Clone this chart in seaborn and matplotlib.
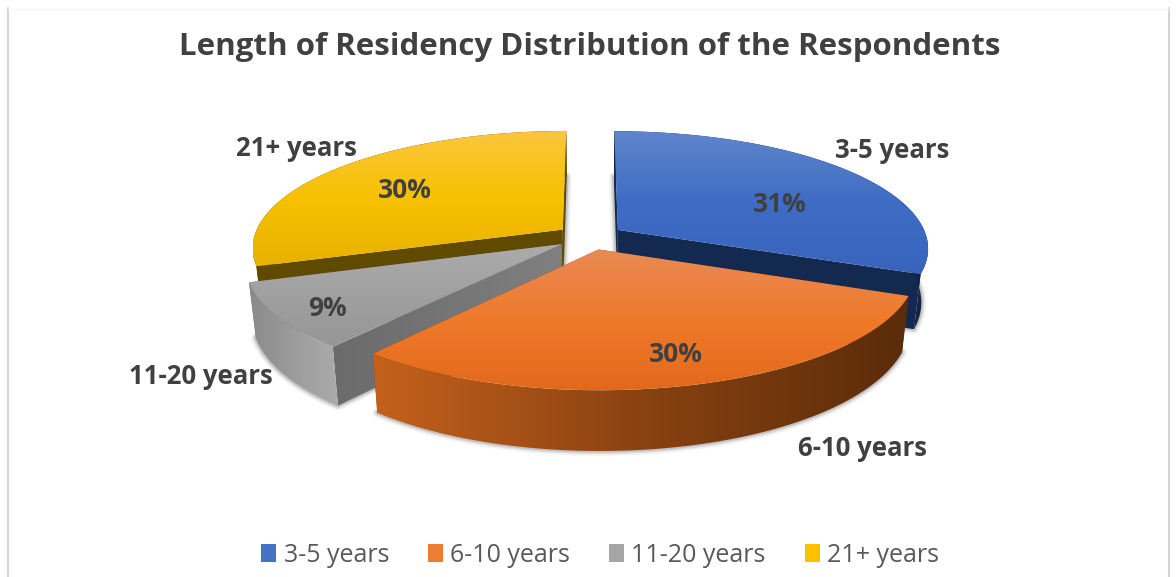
import numpy as np
import matplotlib
matplotlib.use('Agg')
import matplotlib.pyplot as plt
import seaborn as sns
from matplotlib.colors import LinearSegmentedColormap
from matplotlib.patches import Patch, Polygon

categories = ['3-5 years', '6-10 years', '11-20 years', '21+ years']
shares = [31, 30, 9, 30]
base_colors = ['#4472C4', '#ED7D31', '#A5A5A5', '#FFC000']
title = 'Length of Residency Distribution of the Respondents'

# colour stops for the fake 3d shading
top_stops = [['#5F86CC', '#3F6CC4', '#3864BC'],
             ['#E98A55', '#EF7A2A', '#E2691B'],
             ['#ABABAB', '#A0A0A0', '#969696'],
             ['#FBC640', '#F7C100', '#E9B100']]
arc_stops = [['#15294F', '#15294F', '#122447'],
             ['#C4611C', '#8A4211', '#5A2C09'],
             ['#8A8A8A', '#9C9C9C', '#ABABAB'],
             ['#5F4A00', '#5F4A00', '#5F4A00']]
cut_stops = [['#14294F', '#14294F', '#14294F'],
             ['#7A3A0E', '#7A3A0E', '#7A3A0E'],
             ['#6B6B6B', '#757575', '#808080'],
             ['#5F4A00', '#5F4A00', '#5F4A00']]

# projection of the pie plane onto the picture, in pixels
CX, CY = 590, 237
RX, RY = 309, 115.5
TILT = 0.15
EXPLODE = 0.11
BASE_SHRINK = 0.98

sns.set_theme(style='white')
plt.rcParams['font.family'] = ['Open Sans', 'DejaVu Sans']

fig = plt.figure(figsize=(11.76, 5.77), dpi=100, facecolor='white')
ax = fig.add_axes([0, 0, 1, 1])

# pie gives the angles and exploded centres, the wedges are redrawn in perspective below
wedges, _ = ax.pie(shares, explode=[EXPLODE] * len(shares), startangle=90, counterclock=False)


def project(x, y):
    d = 1 + TILT * y
    return CX + RX * x / d, CY - RY * y / d


def depth(y):
    return 53 - 7 * y


def grad_fill(pts, stops, horizontal, z):
    xs, ys = pts[:, 0], pts[:, 1]
    cmap = LinearSegmentedColormap.from_list('g', stops)
    ramp = np.linspace(0, 1, 256)
    img = ramp[None, :] if horizontal else ramp[:, None]
    im = ax.imshow(img, cmap=cmap, vmin=0, vmax=1, aspect='auto', zorder=z,
                   extent=(xs.min(), xs.max(), ys.max(), ys.min()), interpolation='bilinear')
    clip = Polygon(pts, closed=True, transform=ax.transData, facecolor='none', edgecolor='none')
    ax.add_patch(clip)
    im.set_clip_path(clip)


z = 2
slices = []
for i, w in enumerate(wedges):
    th = np.radians(np.linspace(w.theta1, w.theta2, 120))
    cx, cy = w.center
    ax_pts = np.column_stack([cx + np.cos(th), cy + np.sin(th)])
    apex = np.array([cx, cy])
    slices.append((i, apex, ax_pts))
    w.set_visible(False)

# back slices first, orange is in front
for i, apex, arc in [slices[3], slices[0], slices[2], slices[1]]:
    all_pts = np.vstack([apex, arc])
    px, py = project(all_pts[:, 0], all_pts[:, 1])
    top = np.column_stack([px, py])
    low = np.column_stack([CX + (px - CX) * BASE_SHRINK, py + depth(all_pts[:, 1])])

    # soft shadow round the base
    for lw, a in [(7, 0.06), (4.5, 0.10), (2.5, 0.16)]:
        ax.add_patch(Polygon(low, closed=True, fill=False, edgecolor='#303030', alpha=a,
                             lw=lw, joinstyle='round', zorder=z))
    z += 1

    # the two cut faces
    for j in (1, -1):
        quad = np.array([top[0], top[j], low[j], low[0]])
        grad_fill(quad, cut_stops[i], True, z)
        z += 1

    # outer rim, only the part facing the viewer shows
    rim = np.vstack([top[1:], low[1:][::-1]])
    grad_fill(rim, arc_stops[i], True, z)
    z += 1

    grad_fill(top, top_stops[i], False, z)
    z += 1

# chart frame
ax.plot([8, 8], [8, 577], color='#D4D4D4', lw=1.5, zorder=1)
ax.plot([1169, 1169], [8, 577], color='#D4D4D4', lw=1.5, zorder=1)
ax.plot([8, 1169], [9, 9], color='#F6F6F6', lw=1, zorder=1)

TXT = '#404040'
ax.text(590, 47, title, ha='center', va='center', fontsize=22.5, fontweight='bold', color=TXT)

label_pos = [(892, 150), (863, 449), (201, 376), (296, 149)]
pct_pos = [(780, 205), (676, 355), (327, 308), (405, 191)]
for i, cat in enumerate(categories):
    ax.text(*label_pos[i], cat, ha='center', va='center', fontsize=18.5, fontweight='bold', color=TXT)
    ax.text(*pct_pos[i], f'{shares[i]}%', ha='center', va='center', fontsize=19,
            fontweight='bold', color=TXT, zorder=z + 1)

handles = [Patch(facecolor=c, edgecolor='none') for c in base_colors]
ax.legend(handles, categories, ncol=4, frameon=False, loc='center', bbox_to_anchor=(600, 555),
          bbox_transform=ax.transData, fontsize=18, labelcolor='#595959', handlelength=0.6,
          handleheight=0.75, handletextpad=0.3, columnspacing=1.55)

ax.set_aspect('auto')
ax.set_xlim(0, 1176)
ax.set_ylim(577, 0)
ax.set_axis_off()

fig.savefig('out.png', dpi=100, facecolor='white')
plt.close()
